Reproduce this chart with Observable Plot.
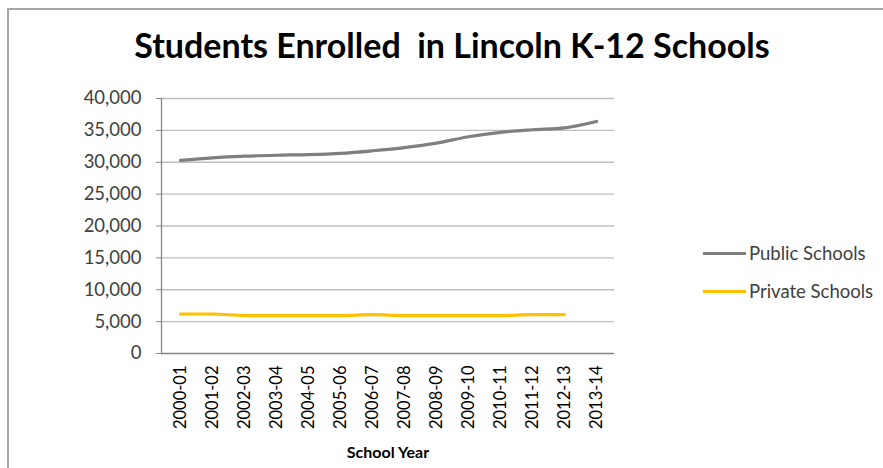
<!DOCTYPE html>
<html>
<head>
<meta charset="utf-8">
<script src="https://cdn.jsdelivr.net/npm/d3@7"></script>
<script src="https://cdn.jsdelivr.net/npm/@observablehq/plot@0.6"></script>
<style>
  html, body { margin: 0; padding: 0; background: #fff; overflow: hidden; }
  #wrap { position: relative; width: 883px; height: 468px; font-family: Lato, "Open Sans", sans-serif; }
  #border { position: absolute; left: 7px; top: 8px; width: 950px; height: 550px; border: 2px solid #a6a6a6; box-sizing: border-box; }
  #title { position: absolute; left: 0; width: 904px; top: 24px; text-align: center; font-weight: 700; font-size: 34px; color: #000; white-space: pre; }
  #chart { position: absolute; left: 0; top: 0; }
  .legend { position: absolute; left: 703px; font-size: 18.5px; color: #404040; display: flex; align-items: center; white-space: nowrap; }
  .legend .sw { width: 43px; height: 3px; margin-right: 3px; }
</style>
</head>
<body>
<div id="wrap">
  <div id="border"></div>
  <div id="chart"></div>
  <div id="title"></div>
  <div id="legend"></div>
</div>
<script>
const title = "Students Enrolled  in Lincoln K-12 Schools";
const xLabel = "School Year";
const years = ["2000-01","2001-02","2002-03","2003-04","2004-05","2005-06","2006-07","2007-08","2008-09","2009-10","2010-11","2011-12","2012-13","2013-14"];
const publicSchools = [30300, 30700, 30950, 31100, 31200, 31400, 31800, 32300, 33000, 34000, 34700, 35100, 35400, 36400];
const privateSchools = [6200, 6200, 5950, 5950, 5950, 5950, 6100, 5950, 5950, 5950, 5950, 6100, 6100, null];
const seriesNames = ["Public Schools", "Private Schools"];
const seriesColors = ["#7f7f7f", "#ffc000"];
const yTicks = [0, 5000, 10000, 15000, 20000, 25000, 30000, 35000, 40000];

const rows = [];
years.forEach((y, i) => {
  rows.push({year: y, value: publicSchools[i], series: seriesNames[0]});
  if (privateSchools[i] != null) rows.push({year: y, value: privateSchools[i], series: seriesNames[1]});
});

document.getElementById("title").textContent = title;

const chart = Plot.plot({
  width: 883,
  height: 468,
  marginLeft: 161,
  marginRight: 269,
  marginTop: 98,
  marginBottom: 115,
  style: {fontFamily: "Lato, 'Open Sans', sans-serif", background: "transparent", overflow: "visible"},
  x: {type: "point", domain: years, padding: 0.5, label: null},
  y: {domain: [0, 40000], ticks: yTicks, label: null},
  color: {domain: seriesNames, range: seriesColors},
  marks: [
    Plot.ruleY(yTicks.slice(1), {stroke: "#bfbfbf", strokeWidth: 1.3, strokeOpacity: 1}),
    Plot.axisY({ticks: yTicks, tickFormat: d3.format(","), tickSize: 5, tickPadding: 15, fontSize: 18.5, color: "#404040", stroke: "#868686", label: null}),
    Plot.axisX({tickRotate: -90, tickSize: 0, tickPadding: 12, fontSize: 16.5, color: "#000", label: null}),
    Plot.frame({anchor: "left", stroke: "#868686", strokeWidth: 1.3}),
    Plot.ruleY([0], {stroke: "#868686", strokeWidth: 1.3}),
    Plot.line(rows, {x: "year", y: "value", z: "series", stroke: "series", strokeWidth: 3.2, curve: "monotone-x"}),
    Plot.text([xLabel], {frameAnchor: "bottom", dy: 104, fontWeight: "bold", fontSize: 16, fill: "#000", text: d => d})
  ]
});
document.getElementById("chart").appendChild(chart);

const legend = document.getElementById("legend");
const legendTops = [242, 280];
seriesNames.forEach((name, i) => {
  const item = document.createElement("div");
  item.className = "legend";
  item.style.top = legendTops[i] + "px";
  const sw = document.createElement("span");
  sw.className = "sw";
  sw.style.background = seriesColors[i];
  const t = document.createElement("span");
  t.textContent = name;
  item.appendChild(sw);
  item.appendChild(t);
  legend.appendChild(item);
});
</script>
</body>
</html>
